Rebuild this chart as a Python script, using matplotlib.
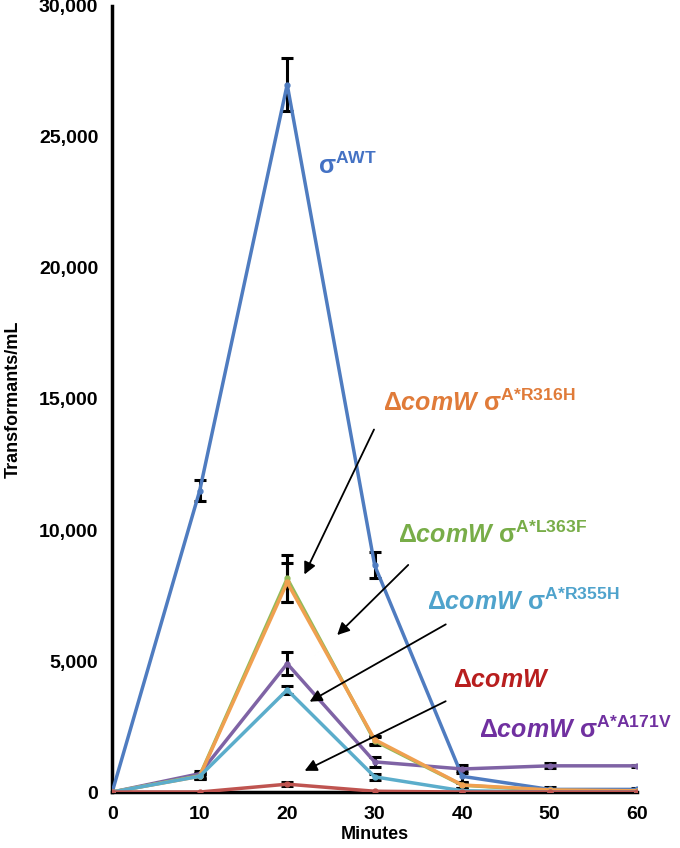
import matplotlib
matplotlib.use("Agg")
import matplotlib.pyplot as plt

# Daten
minutes = [0, 10, 20, 30, 40, 50, 60]

wt = [0, 11500, 27000, 8650, 600, 100, 100]
wt_err = [0, 400, 1000, 500, 200, 80, 50]

a171v = [0, 700, 4900, 1150, 880, 1000, 1000]
a171v_err = [0, 100, 450, 200, 150, 100, 50]

l363f = [0, 620, 8150, 1950, 260, 60, 40]
l363f_err = [0, 100, 900, 150, 100, 50, 30]

r316h = [0, 600, 8000, 2000, 270, 80, 50]
r316h_err = [0, 100, 750, 150, 100, 50, 30]

r355h = [0, 600, 3900, 580, 50, 0, 0]
r355h_err = [0, 100, 150, 120, 50, 0, 0]

comw = [0, 0, 300, 30, 0, 0, 0]
comw_err = [0, 20, 80, 20, 0, 0, 0]

yticks = [0, 5000, 10000, 15000, 20000, 25000, 30000]
ytick_labels = ["0", "5,000", "10,000", "15,000", "20,000", "25,000", "30,000"]

plt.rcParams["font.family"] = ["Liberation Sans", "DejaVu Sans"]
plt.rcParams["font.weight"] = "bold"
plt.rcParams["mathtext.fontset"] = "custom"
plt.rcParams["mathtext.rm"] = "Liberation Sans:bold"
plt.rcParams["mathtext.bf"] = "Liberation Sans:bold"
plt.rcParams["mathtext.it"] = "Liberation Sans:bold:italic"

fig = plt.figure(figsize=(6.8, 8.48), dpi=100)
ax = fig.add_axes([0.165, 0.066, 0.772, 0.927])

series = [
    (wt, wt_err, "#4F7CC0"),
    (a171v, a171v_err, "#7F63A5"),
    (l363f, l363f_err, "#93BB59"),
    (r316h, r316h_err, "#F0A050"),
    (r355h, r355h_err, "#5BADCB"),
    (comw, comw_err, "#BF5450"),
]

for vals, err, col in series:
    ax.errorbar(minutes, vals, yerr=err, fmt="none", ecolor="black",
                elinewidth=2.2, capsize=4.5, capthick=2.2, zorder=2)

for vals, err, col in series:
    ax.plot(minutes, vals, color=col, lw=2.5, marker="o", ms=3.5, zorder=3)

ax.set_xlim(0, 60)
ax.set_ylim(0, 30000)
ax.set_xticks(minutes)
ax.set_xticklabels([str(m) for m in minutes])
ax.set_yticks(yticks)
ax.set_yticklabels(ytick_labels)
ax.tick_params(length=0, labelsize=14, pad=10)
for lab in ax.get_xticklabels() + ax.get_yticklabels():
    lab.set_fontweight("bold")

for s in ["top", "right"]:
    ax.spines[s].set_visible(False)
for s in ["left", "bottom"]:
    ax.spines[s].set_linewidth(2.5)
    ax.spines[s].set_zorder(1)

ax.set_xlabel("Minutes", fontsize=13, fontweight="bold", labelpad=2)
ax.set_ylabel("Transformants/mL", fontsize=13, fontweight="bold", labelpad=12)

# Beschriftungen
fs = 18
ax.text(23.5, 23900, r"$\mathrm{σ}^{\mathrm{AWT}}$", color="#4472C4",
        fontsize=fs, ha="left", va="center")
ax.text(31.0, 14850, r"$\mathrm{Δ}\mathit{comW}\ \mathrm{σ}^{\mathrm{A{*}R316H}}$",
        color="#E07B39", fontsize=fs, ha="left", va="center")
ax.text(32.7, 9810, r"$\mathrm{Δ}\mathit{comW}\ \mathrm{σ}^{\mathrm{A{*}L363F}}$",
        color="#78AD48", fontsize=fs, ha="left", va="center")
ax.text(36.0, 7250, r"$\mathrm{Δ}\mathit{comW}\ \mathrm{σ}^{\mathrm{A{*}R355H}}$",
        color="#4FA3CC", fontsize=fs, ha="left", va="center")
ax.text(38.97, 4275, r"$\mathrm{Δ}\mathit{comW}$",
        color="#B81E1E", fontsize=fs, ha="left", va="center")
ax.text(41.9, 2370, r"$\mathrm{Δ}\mathit{comW}\ \mathrm{σ}^{\mathrm{A{*}A171V}}$",
        color="#7030A0", fontsize=fs, ha="left", va="center")

arrows = [
    ((30.06, 13930), (21.83, 8206)),
    ((34.06, 8741), (25.49, 5916)),
    ((38.4, 6451), (22.29, 3397)),
    ((38.4, 3512), (21.71, 763)),
]
for start, end in arrows:
    ax.annotate("", xy=end, xytext=start,
                arrowprops=dict(arrowstyle="-|>", color="black", lw=1.3,
                                mutation_scale=18), zorder=4)

fig.savefig("out.png", dpi=100)
